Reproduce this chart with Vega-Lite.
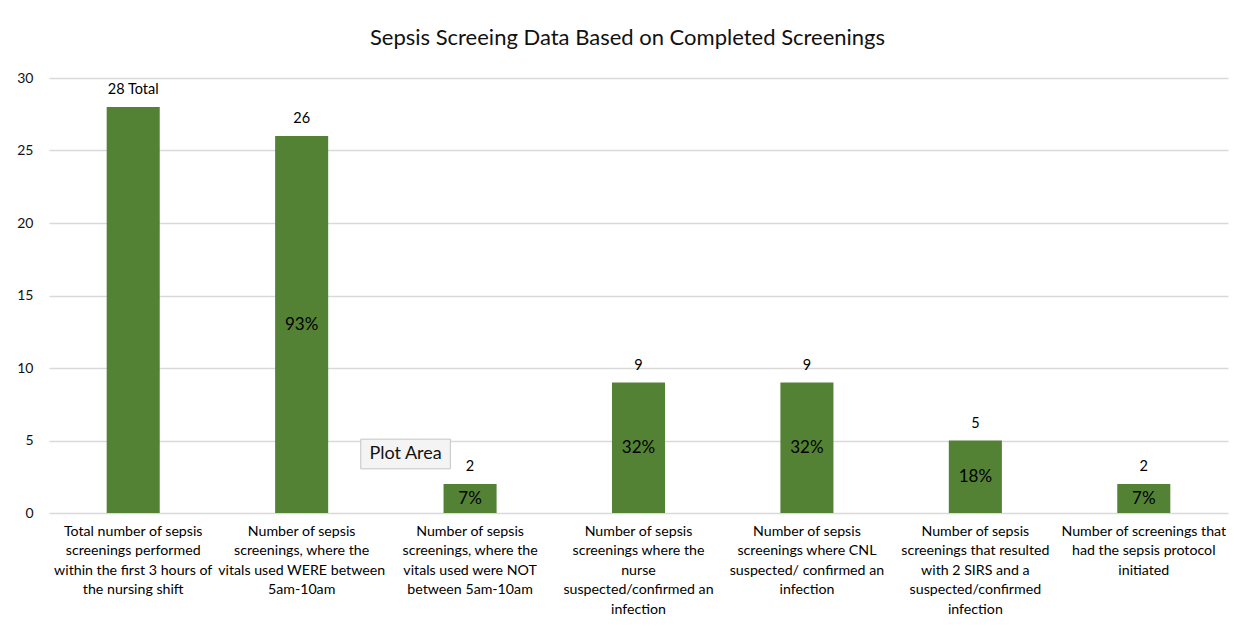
{
  "$schema": "https://vega.github.io/schema/vega-lite/v6.json",
  "width": 1179,
  "height": 435,
  "autosize": {"type": "none"},
  "padding": {"left": 49, "top": 78, "right": 16, "bottom": 115},
  "background": "white",
  "title": {
    "text": "Sepsis Screeing Data Based on Completed Screenings",
    "font": "Lato",
    "fontSize": 22,
    "fontWeight": "normal",
    "color": "#111111",
    "anchor": "middle",
    "dx": -11,
    "offset": 21
  },
  "config": {
    "view": {"stroke": null},
    "font": "Lato"
  },
  "datasets": {
    "bars": [
      {"category": "Total number of sepsis|screenings performed|within the first 3 hours of|the nursing shift", "value": 28, "top": "28 Total", "pct": null},
      {"category": "Number of sepsis|screenings, where the|vitals used WERE between|5am-10am", "value": 26, "top": "26", "pct": "93%"},
      {"category": "Number of sepsis|screenings, where the|vitals used were NOT|between 5am-10am", "value": 2, "top": "2", "pct": "7%"},
      {"category": "Number of sepsis|screenings where the|nurse|suspected/confirmed an|infection", "value": 9, "top": "9", "pct": "32%"},
      {"category": "Number of sepsis|screenings where CNL|suspected/ confirmed an|infection", "value": 9, "top": "9", "pct": "32%"},
      {"category": "Number of  sepsis|screenings that resulted|with 2 SIRS and a|suspected/confirmed|infection", "value": 5, "top": "5", "pct": "18%"},
      {"category": "Number of screenings that|had the sepsis protocol|initiated", "value": 2, "top": "2", "pct": "7%"}
    ],
    "note": [
      {"category": "Number of sepsis|screenings, where the|vitals used were NOT|between 5am-10am", "y": 4.07, "label": "Plot Area"}
    ]
  },
  "data": {"name": "bars"},
  "encoding": {
    "x": {
      "field": "category",
      "type": "nominal",
      "sort": null,
      "scale": {"paddingInner": 0.685, "paddingOuter": 0.3425},
      "axis": {
        "title": null,
        "labelAngle": 0,
        "labelExpr": "split(datum.label, '|')",
        "labelFont": "Lato",
        "labelFontSize": 14.2,
        "labelColor": "#000000",
        "labelLineHeight": 19.5,
        "labelLimit": 0,
        "labelPadding": 11,
        "labelBaseline": "top",
        "ticks": false,
        "domain": false,
        "grid": false
      }
    }
  },
  "layer": [
    {
      "mark": {"type": "bar", "color": "#548235"},
      "encoding": {
        "y": {
          "field": "value",
          "type": "quantitative",
          "scale": {"domain": [0, 30], "nice": false},
          "axis": {
            "title": null,
            "values": [0, 5, 10, 15, 20, 25, 30],
            "labelFont": "Lato",
            "labelFontSize": 14,
            "labelColor": "#111111",
            "labelPadding": 16,
            "ticks": false,
            "domain": false,
            "gridColor": "#d9d9d9",
            "gridWidth": 1.5
          }
        }
      }
    },
    {
      "mark": {"type": "text", "baseline": "bottom", "dy": -10, "fontSize": 14.5, "font": "Lato", "color": "#000000"},
      "encoding": {
        "y": {"field": "value", "type": "quantitative"},
        "text": {"field": "top"}
      }
    },
    {
      "transform": [{"filter": "datum.pct != null"}, {"calculate": "datum.value / 2", "as": "mid"}],
      "mark": {"type": "text", "baseline": "middle", "fontSize": 17, "font": "Lato", "color": "#000000"},
      "encoding": {
        "y": {"field": "mid", "type": "quantitative"},
        "text": {"field": "pct"}
      }
    },
    {
      "data": {"name": "note"},
      "mark": {
        "type": "point",
        "shape": "M-1.6,-0.53H1.6V0.53H-1.6Z",
        "size": 3136,
        "filled": true,
        "fill": "#f4f4f4",
        "stroke": "#c4c4c4",
        "strokeWidth": 1,
        "opacity": 1,
        "xOffset": -64.5
      },
      "encoding": {
        "y": {"field": "y", "type": "quantitative"}
      }
    },
    {
      "data": {"name": "note"},
      "mark": {"type": "text", "fontSize": 18, "font": "Lato", "color": "#111111", "baseline": "middle", "xOffset": -64.5},
      "encoding": {
        "y": {"field": "y", "type": "quantitative"},
        "text": {"field": "label"}
      }
    }
  ]
}
